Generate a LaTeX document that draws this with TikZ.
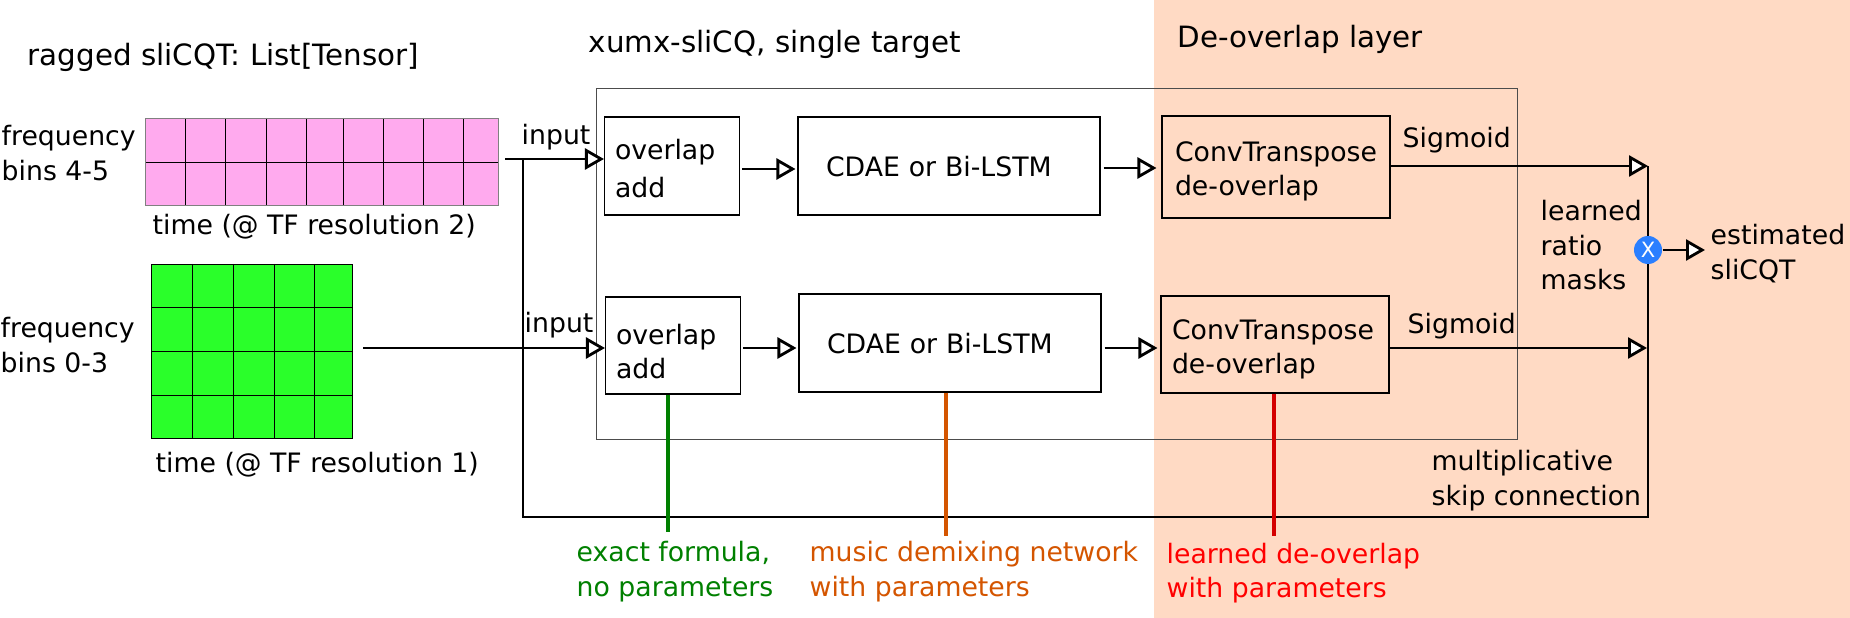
\documentclass[tikz,border=0pt]{standalone}
\usepackage{fontspec}
\setmainfont{DejaVu Sans}
\usetikzlibrary{arrows.meta}

\definecolor{peach}{HTML}{FFDAC4}
\definecolor{binpink}{HTML}{FFAAEE}
\definecolor{bingreen}{HTML}{2AFF2A}
\definecolor{exactgreen}{HTML}{008000}
\definecolor{netorange}{HTML}{D45500}
\definecolor{maskblue}{HTML}{2A7FFF}

\tikzset{
	label/.style={font=\fontsize{7.6}{9.7}\selectfont, anchor=base west, inner sep=0pt, align=left},
	title/.style={label, font=\fontsize{8.35}{9.7}\selectfont},
	opbox/.style={draw, line width=0.3pt, font=\fontsize{7.6}{9.7}\selectfont, align=left, inner ysep=0pt},
	flow/.style={line width=0.8pt, -{Triangle[open, fill=white, length=0.19cm, width=0.21cm, line width=0.8pt]}},
	skipline/.style={line width=0.8pt},
	paramline/.style={line width=1.1pt},
}

\begin{document}
\begin{tikzpicture}
\useasboundingbox (0,0) rectangle (18.5,-6.18);
\fill[peach] (11.54,0) rectangle (18.5,-6.18);

% spectrogram grids
\node[minimum width=3.53cm, minimum height=0.87cm, inner sep=0pt, fill=binpink] (pinkgrid) at (3.215,-1.615) {};
\foreach \x in {1.85,2.25,2.66,3.06,3.43,3.83,4.23,4.63} {
	\draw[line width=0.2pt] (\x,-1.18) -- (\x,-2.05);
}
\draw[line width=0.2pt] (1.45,-1.62) -- (4.98,-1.62);
\draw[line width=0.2pt, color=gray] (1.45,-1.18) rectangle (4.98,-2.05);

\node[minimum width=2.01cm, minimum height=1.74cm, inner sep=0pt, fill=bingreen] (greengrid) at (2.515,-3.51) {};
\foreach \x in {1.92,2.33,2.74,3.14} {
	\draw[line width=0.2pt] (\x,-2.64) -- (\x,-4.38);
}
\foreach \y in {-3.07,-3.51,-3.95} {
	\draw[line width=0.2pt] (1.51,\y) -- (3.52,\y);
}
\draw[line width=0.2pt] (1.51,-2.64) rectangle (3.52,-4.38);

% enclosing model box
\draw[line width=0.25pt, color=black!70] (5.96,-0.88) rectangle (15.17,-4.39);

% blocks
\node[opbox, minimum width=1.35cm, minimum height=0.98cm, text width=1.18cm, inner xsep=0.085cm] (addtop) at (6.72,-1.66) {\rule{0pt}{7.2pt}\hspace*{0.02cm}overlap\\[1pt]\hspace*{0.02cm}add};
\node[opbox, minimum width=3.02cm, minimum height=0.98cm, text width=2.74cm, inner xsep=0.14cm, text depth=0pt] (cdaetop) at (9.49,-1.66) {\hspace*{0.14cm}CDAE or Bi-LSTM};
\node[opbox, minimum width=2.28cm, minimum height=1.02cm, text width=2.2cm, inner xsep=0.04cm] (deovtop) at (12.76,-1.67) {\rule{0pt}{8.1pt}\hspace*{0.09cm}ConvTranspose\\\hspace*{0.09cm}de-overlap};
\node[opbox, minimum width=1.35cm, minimum height=0.97cm, text width=1.18cm, inner xsep=0.085cm] (addbot) at (6.73,-3.455) {\rule{0pt}{9pt}\hspace*{0.02cm}overlap\\\hspace*{0.02cm}add};
\node[opbox, minimum width=3.02cm, minimum height=0.98cm, text width=2.74cm, inner xsep=0.14cm, text depth=0pt] (cdaebot) at (9.5,-3.43) {\hspace*{0.14cm}CDAE or Bi-LSTM};
\node[opbox, minimum width=2.28cm, minimum height=0.97cm, text width=2.2cm, inner xsep=0.04cm] (deovbot) at (12.75,-3.445) {\rule{0pt}{8.65pt}\hspace*{0.07cm}ConvTranspose\\\hspace*{0.07cm}de-overlap};

% free ends of the connectors
\coordinate (inputtop) at (5.05,-1.59);
\coordinate (inputbot) at (3.63,-3.48);
\coordinate (skiptop) at (5.23,-1.59);
\coordinate (skipleft) at (5.23,-5.17);
\coordinate (skipright) at (16.48,-5.17);
\coordinate (masktop) at (16.48,-1.66);
\coordinate (maskbot) at (16.47,-3.48);
\coordinate (sigtop) at (13.9,-1.66);
\coordinate (sigbot) at (13.89,-3.48);
\coordinate (midtop) at (0,-1.69);
\coordinate (midtopb) at (0,-1.68);
\coordinate (midbot) at (0,-3.48);
\coordinate (output) at (17.05,-2.5);
\coordinate (exactend) at (6.68,-5.32);
\coordinate (netend) at (9.46,-5.36);
\coordinate (learnend) at (12.74,-5.36);

% connectors
\draw[skipline] (skiptop) -- (skipleft) -- (skipright) -- (masktop);
\node[circle, fill=maskblue, minimum size=0.28cm, inner sep=0pt, text=white, font=\fontsize{6}{6}\selectfont] (mult) at (16.48,-2.5) {X};
\draw[flow] (inputtop) -- (addtop.west |- inputtop);
\draw[flow] (inputbot) -- (addbot.west |- inputbot);
\draw[flow, shorten <=0.02cm, shorten >=0.02cm] (addtop.east |- midtop) -- (cdaetop.west |- midtop);
\draw[flow, shorten <=0.03cm, shorten >=0.05cm] (cdaetop.east |- midtopb) -- (deovtop.west |- midtopb);
\draw[flow, shorten <=0.02cm, shorten >=0.02cm] (addbot.east |- midbot) -- (cdaebot.west |- midbot);
\draw[flow, shorten <=0.03cm, shorten >=0.03cm] (cdaebot.east |- midbot) -- (deovbot.west |- midbot);
\draw[flow] (sigtop) -- (masktop);
\draw[flow] (sigbot) -- (maskbot);
\draw[flow] (mult) -- (output);
\draw[paramline, color=exactgreen] (addbot.south -| exactend) -- (exactend);
\draw[paramline, color=netorange] (cdaebot.south -| netend) -- (netend);
\draw[paramline, color=red!83!black] (deovbot.south -| learnend) -- (learnend);

% texts
\node[title] (titlegrid) at (0.27,-0.66) {ragged sliCQT: List[Tensor]};
\node[title] (titlemodel) at (5.88,-0.53) {xumx-sliCQ, single target};
\node[title] (titlelayer) at (11.77,-0.48) {De-overlap layer};
\node[label, anchor=north west] (binstop) at (0.01,-1.25) {frequency\\bins 4-5};
\node[label, anchor=north west] (binsbot) at (0,-3.17) {frequency\\bins 0-3};
\node[label] (inputa) at (5.21,-1.45) {input};
\node[label] (inputb) at (5.24,-3.32) {input};
\node[label] (timetop) at (1.52,-2.35) {time (@ TF resolution 2)};
\node[label] (timebot) at (1.55,-4.72) {time (@ TF resolution 1)};
\node[label] (sigmoida) at (14.02,-1.48) {Sigmoid};
\node[label] (sigmoidb) at (14.07,-3.34) {Sigmoid};
\node[label, anchor=north west] (ratio) at (15.40,-2.0) {learned\\ratio\\masks};
\node[label, anchor=north west] (estimate) at (17.10,-2.24) {estimated\\sliCQT};
\node[label, anchor=north west] (skiptext) at (14.31,-4.50) {multiplicative\\skip connection};
\node[label, anchor=north west, text=exactgreen] (exacttext) at (5.76,-5.41) {exact formula,\\no parameters};
\node[label, anchor=north west, text=netorange] (nettext) at (8.09,-5.41) {music demixing network\\with parameters};
\node[label, anchor=north west, text=red] (learntext) at (11.66,-5.42) {learned de-overlap\\with parameters};
\end{tikzpicture}
\end{document}
